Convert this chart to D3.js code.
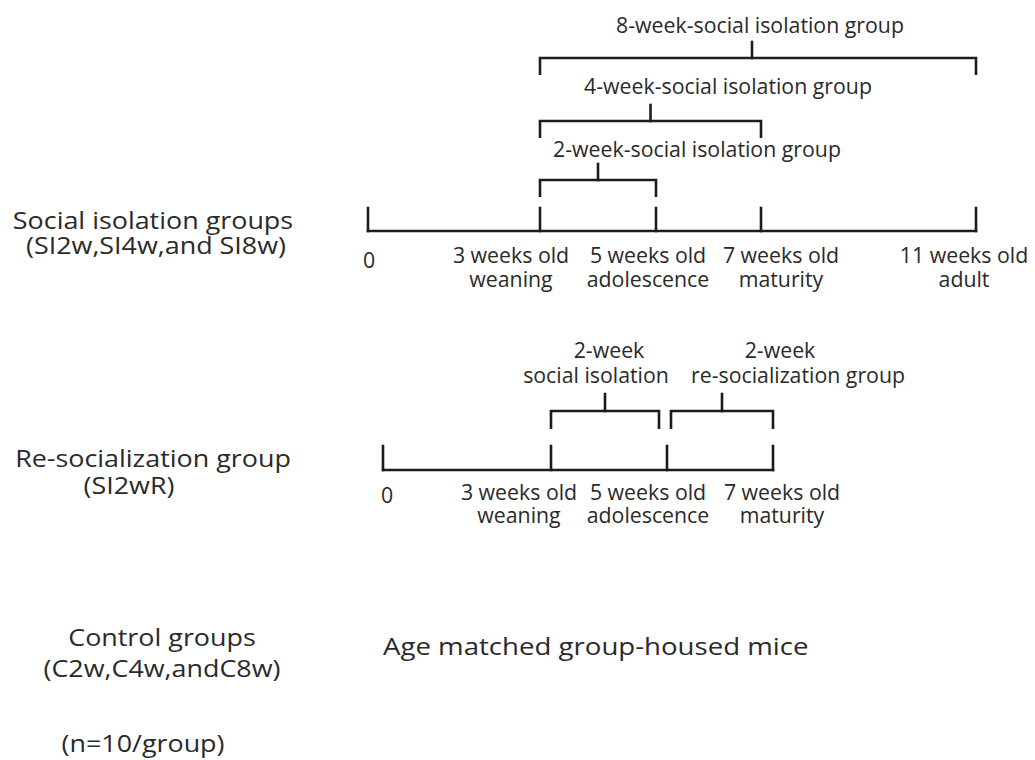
<!DOCTYPE html>
<html><head><meta charset="utf-8">
<script src="https://cdn.jsdelivr.net/npm/d3@7/dist/d3.min.js"></script>
<style>body{margin:0;background:#fff}</style></head>
<body><svg id="c" width="1035" height="760"></svg>
<script>
// ---- data ----
const ageWeeks = [0, 3, 5, 7, 11];
const ageLabels = ["0", "3 weeks old", "5 weeks old", "7 weeks old", "11 weeks old"];
const stageLabels = ["", "weaning", "adolescence", "maturity", "adult"];
const isoGroups = ["2-week-social isolation group", "4-week-social isolation group", "8-week-social isolation group"];
const isoStart = [3, 3, 3];
const isoEnd = [5, 7, 11];
const reAgeWeeks = [0, 3, 5, 7];
const reAgeLabels = ["0", "3 weeks old", "5 weeks old", "7 weeks old"];
const reStageLabels = ["", "weaning", "adolescence", "maturity"];
const rePhaseTop = ["2-week", "2-week"];
const rePhaseBottom = ["social isolation", "re-socialization group"];
const reStart = [3, 5];
const reEnd = [5, 7];
const groupTitles = ["Social isolation groups", "Re-socialization group", "Control groups"];
const groupCodes = ["(SI2w,SI4w,and SI8w)", "(SI2wR)", "(C2w,C4w,andC8w)"];
const controlNote = "Age matched group-housed mice";
const sampleNote = "(n=10/group)";

// ---- layout ----
const FONT = "'Open Sans', 'Noto Sans', sans-serif";
const INK = "#1c1c1c", TXT = "#2a2a2a", SW = 2.6;
const svg = d3.select("#c");
const x1 = d3.scaleLinear().domain(ageWeeks).range([368, 540, 656, 761, 976]);
const x2 = d3.scaleLinear().domain(reAgeWeeks).range([383, 551, 667, 773]);

function line(g, xa, ya, xb, yb) {
  g.append("line").attr("x1", xa).attr("y1", ya).attr("x2", xb).attr("y2", yb)
    .attr("stroke", INK).attr("stroke-width", SW).attr("stroke-linecap", "square");
}
function txt(x, y, s, size, anchor, stretch) {
  const t = svg.append("text").attr("x", x).attr("y", y).text(s)
    .attr("font-family", FONT).attr("font-size", size).attr("fill", TXT)
    .attr("text-anchor", anchor || "middle");
  if (stretch) {
    const len = t.node().getComputedTextLength();
    t.attr("textLength", len * stretch).attr("lengthAdjust", "spacingAndGlyphs");
  }
  return t;
}

function timeline(x, weeks, baseY, tickH) {
  const g = svg.append("g");
  const ext = d3.extent(weeks);
  line(g, x(ext[0]), baseY, x(ext[1]), baseY);
  weeks.forEach(w => line(g, x(w), baseY, x(w), baseY - tickH));
}
function bracket(xa, xb, barY, legH, stemH, stemX) {
  const g = svg.append("g");
  g.append("path").attr("d", `M${xa},${barY + legH}V${barY}H${xb}V${barY + legH}`)
    .attr("fill", "none").attr("stroke", INK).attr("stroke-width", SW);
  line(g, stemX, barY, stemX, barY - stemH);
}

// ---- top: social isolation groups ----
const TS = 21.3;
timeline(x1, ageWeeks, 231, 23);
const topShift = [1, -29, -8, 20, -12];
ageWeeks.forEach((w, i) => {
  txt(x1(w) + topShift[i], i === 0 ? 268 : 263, ageLabels[i], TS);
  txt(x1(w) + topShift[i], 287, stageLabels[i], TS);
});
const isoBarY = [180, 121, 58];
const isoLabelY = [157, 94, 33];
const isoLabelShift = [157, 188, 220];
isoGroups.forEach((name, i) => {
  const a = x1(isoStart[i]), b = x1(isoEnd[i]);
  bracket(a, b, isoBarY[i], 17, 16, (a + b) / 2 - (i === 2 ? 6 : 0));
  txt(a + isoLabelShift[i], isoLabelY[i], name, TS);
});

// ---- middle: re-socialization ----
timeline(x2, reAgeWeeks, 470, 24);
const reShift = [4, -32, -19, 9];
reAgeWeeks.forEach((w, i) => {
  txt(x2(w) + reShift[i], i === 0 ? 503 : 500, reAgeLabels[i], TS);
  txt(x2(w) + reShift[i], 523, reStageLabels[i], TS);
});
const gap = [[0, -8], [4, 0]];
const reTopShift = [4, 58], reBotShift = [-9, 76];
reStart.forEach((s, i) => {
  const a = x2(s) + gap[i][0], b = x2(reEnd[i]) + gap[i][1];
  bracket(a, b, 411, 18, 17, (a + b) / 2);
  txt((a + b) / 2 + reTopShift[i], 358, rePhaseTop[i], TS);
  txt((a + b) / 2 + reBotShift[i], 383, rePhaseBottom[i], TS);
});

// ---- left group titles ----
const LS = 24, LSTRETCH = 1.12;
const titleY = [229, 467, 646];
const titleX = [153, 153, 162];
const codeX = [156, 129, 162];
const codeDY = [25, 27, 31];
groupTitles.forEach((t, i) => {
  txt(titleX[i], titleY[i], t, LS, "middle", LSTRETCH);
  txt(codeX[i], titleY[i] + codeDY[i], groupCodes[i], LS, "middle", LSTRETCH);
});
txt(383, 655, controlNote, LS, "start", 1.15);
txt(143, 752, sampleNote, LS, "middle", LSTRETCH);
</script></body></html>
